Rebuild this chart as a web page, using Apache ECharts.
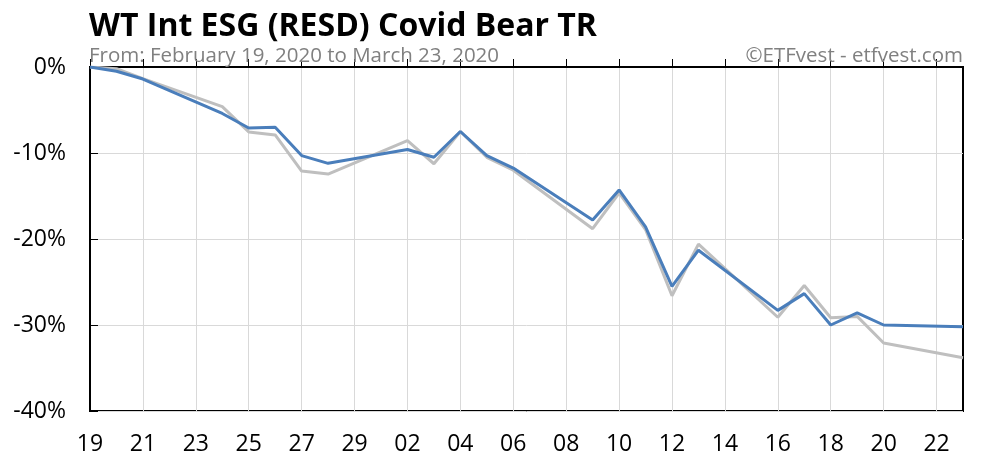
<!DOCTYPE html>
<html>
<head>
    <meta charset="UTF-8">
    <title>WT Int ESG (RESD) Covid Bear TR</title>
    <script src="https://cdn.jsdelivr.net/npm/echarts@6/dist/echarts.min.js"></script>
    <style>
        html, body { margin: 0; padding: 0; background: #fff; }
        #chart { width: 990px; height: 465px; }
    </style>
</head>
<body>
<div id="chart"></div>
<script>
    // calendar days on the axis (Feb 19 - Mar 23, 2020)
    var days = [
        '2020-02-19', '2020-02-20', '2020-02-21', '2020-02-22', '2020-02-23', '2020-02-24',
        '2020-02-25', '2020-02-26', '2020-02-27', '2020-02-28', '2020-02-29',
        '2020-03-01', '2020-03-02', '2020-03-03', '2020-03-04', '2020-03-05', '2020-03-06',
        '2020-03-07', '2020-03-08', '2020-03-09', '2020-03-10', '2020-03-11', '2020-03-12',
        '2020-03-13', '2020-03-14', '2020-03-15', '2020-03-16', '2020-03-17', '2020-03-18',
        '2020-03-19', '2020-03-20', '2020-03-21', '2020-03-22', '2020-03-23'
    ];
    // trading days with a value
    var tradeDays = [
        '2020-02-19', '2020-02-20', '2020-02-21', '2020-02-24', '2020-02-25', '2020-02-26',
        '2020-02-27', '2020-02-28', '2020-03-02', '2020-03-03', '2020-03-04', '2020-03-05',
        '2020-03-06', '2020-03-09', '2020-03-10', '2020-03-11', '2020-03-12', '2020-03-13',
        '2020-03-16', '2020-03-17', '2020-03-18', '2020-03-19', '2020-03-20', '2020-03-23'
    ];
    // RESD total return, %
    var resd = [0, -0.5, -1.4, -5.4, -7.1, -7.0, -10.3, -11.2, -9.6, -10.5, -7.5, -10.3,
        -11.75, -17.8, -14.3, -18.6, -25.5, -21.3, -28.3, -26.35, -30.0, -28.6, -30.0, -30.2];
    // comparison (grey line), %
    var bench = [0, -0.2, -1.35, -4.6, -7.55, -7.9, -12.1, -12.45, -8.55, -11.25, -7.5, -10.5,
        -12.0, -18.8, -14.65, -18.9, -26.6, -20.6, -29.1, -25.4, -29.15, -29.0, -32.1, -33.8];
    var yTicks = [-40, -30, -20, -10, 0];

    function pairs(vals) {
        return tradeDays.map(function (d, i) { return [d, vals[i]]; });
    }

    var font = '"Open Sans", "Noto Sans", sans-serif';
    var chart = echarts.init(document.getElementById('chart'));
    var option = {
        animation: false,
        title: [
            {
                text: 'WT Int ESG (RESD) Covid Bear TR',
                left: 84, top: 2,
                textStyle: { fontFamily: font, fontWeight: 'bold', fontSize: 32, color: '#000', lineHeight: 40 }
            },
            {
                text: 'From: February 19, 2020 to March 23, 2020',
                left: 84, top: 38,
                textStyle: { fontFamily: font, fontWeight: 'normal', fontSize: 20.5, color: '#808080', lineHeight: 26 }
            },
            {
                text: '©ETFvest - etfvest.com',
                right: 22, top: 38,
                textStyle: { fontFamily: font, fontWeight: 'normal', fontSize: 20.5, color: '#808080', lineHeight: 26 }
            }
        ],
        grid: {
            left: 90, right: 27, top: 67, bottom: 54,
            show: true, borderColor: '#000', borderWidth: 2
        },
        xAxis: {
            type: 'category',
            data: days,
            boundaryGap: false,
            axisLine: { lineStyle: { color: '#000', width: 2 } },
            axisTick: { show: true, inside: true, length: 8, interval: 1, lineStyle: { color: '#000' } },
            axisLabel: {
                interval: 1, margin: 22, color: '#000', fontSize: 23, fontFamily: font,
                formatter: function (v) { return v.slice(8); }
            },
            splitLine: { show: true, interval: 1, lineStyle: { color: '#d9d9d9', width: 1 } }
        },
        yAxis: {
            type: 'value',
            min: yTicks[0], max: yTicks[yTicks.length - 1], interval: 10,
            axisLine: { show: true, lineStyle: { color: '#000', width: 2 } },
            axisTick: { show: true, inside: true, length: 8, lineStyle: { color: '#000' } },
            axisLabel: { margin: 24, color: '#000', fontSize: 23, fontFamily: font, formatter: '{value}%' },
            splitLine: { show: true, lineStyle: { color: '#d9d9d9', width: 1 } }
        },
        series: [
            {
                name: 'bench',
                type: 'line',
                data: pairs(bench),
                showSymbol: false,
                lineStyle: { color: '#bfbfbf', width: 3 },
                z: 2
            },
            {
                name: 'RESD',
                type: 'line',
                data: pairs(resd),
                showSymbol: false,
                lineStyle: { color: '#4a7ebb', width: 3 },
                z: 3
            }
        ]
    };
    chart.setOption(option);
</script>
</body>
</html>
